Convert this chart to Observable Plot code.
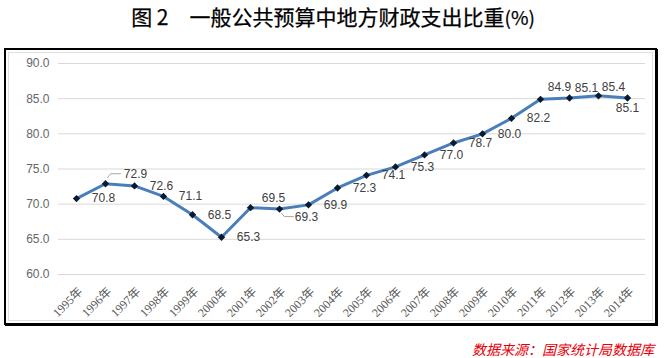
<!DOCTYPE html>
<html><head><meta charset="utf-8">
<script src="https://cdn.jsdelivr.net/npm/d3@7"></script>
<script src="https://cdn.jsdelivr.net/npm/@observablehq/plot@0.6"></script>
<style>
body{margin:0;width:666px;height:358px;position:relative;background:#fff;overflow:hidden;font-family:"Noto Sans CJK SC",sans-serif}
#title{position:absolute;top:3px;left:0;width:666px;text-align:center;font-size:21px;font-weight:normal;-webkit-text-stroke:0.25px #000;line-height:26px;white-space:pre;color:#000}
#title small{font-size:19px}
#frame{position:absolute;left:4px;top:48px;width:649px;height:273px;border:2px solid #000;box-shadow:1px 1px 0 #000}
#inner{position:absolute;left:8px;top:52px;width:643px;height:267px;border:1px solid #e0e0e0}
#chart{position:absolute;left:0;top:45px}
#source{position:absolute;right:12px;top:339px;color:#e8000b;font-size:14px;font-style:italic;line-height:20px}
</style></head>
<body>
<div id="title">图 2　一般公共预算中地方财政支出比重<small>(%)</small></div>
<div id="frame"></div>
<div id="inner"></div>
<div id="chart"></div>
<div id="source">数据来源：国家统计局数据库</div>
<script>
const years = ["1995年","1996年","1997年","1998年","1999年","2000年","2001年","2002年","2003年","2004年","2005年","2006年","2007年","2008年","2009年","2010年","2011年","2012年","2013年","2014年"];
const shares = [70.8,72.9,72.6,71.1,68.5,65.3,69.5,69.3,69.9,72.3,74.1,75.3,77.0,78.7,80.0,82.2,84.9,85.1,85.4,85.1];
const yTicks = [60,65,70,75,80,85,90];

const data = years.map((year, i) => ({year, value: shares[i]}));

// label placement (styling only)
const nudge = {
  "1996年": [30, -10], "2001年": [23, -10], "2002年": [27, 8],
  "2011年": [19, -12], "2012年": [17, -10], "2013年": [15, -9], "2014年": [0, 10]
};
const labelMarks = data.map(d => {
  const [dx, dy] = nudge[d.year] || [27, 0];
  return Plot.text([d], {x: "year", y: "value", text: d => d.value.toFixed(1), dx, dy,
    fill: "#404040", fontSize: 12, fontFamily: "Liberation Sans, Arial, sans-serif"});
});
const leader = (pts) => ({draw(ctx) { ctx.moveTo(pts[0][0], pts[0][1]); for (const p of pts.slice(1)) ctx.lineTo(p[0], p[1]); }});

const chart = Plot.plot({
  width: 666, height: 280,
  marginLeft: 58, marginRight: 21, marginTop: 18, marginBottom: 51,
  x: {type: "point", domain: years, padding: 0.5, axis: null},
  y: {domain: [60, 90], label: null},
  style: {background: "transparent"},
  marks: [
    Plot.ruleY(yTicks, {stroke: "#d9d9d9", strokeWidth: 1}),
    Plot.axisY({ticks: yTicks, tickSize: 0, tickPadding: 9, tickFormat: d => d.toFixed(1), label: null,
      fill: "#666666", fontSize: 12, fontFamily: "Liberation Sans, Arial, sans-serif"}),
    Plot.text(years, {x: d => d, y: () => 60, text: d => d, rotate: -45, textAnchor: "end",
      dx: 4, dy: 15, fill: "#595959", fontSize: 12, fontFamily: "Liberation Serif, Noto Sans CJK SC, serif"}),
    Plot.line(data, {x: "year", y: "value", stroke: "#4a7ebb", strokeWidth: 3}),
    Plot.dot(data, {x: "year", y: "value", symbol: "diamond2", r: 3.3, fill: "#0a1a2e", stroke: "none"}),
    Plot.vector(data.filter(d => d.year === "1996年"), {x: "year", y: "value", anchor: "start", length: 10,
      shape: leader([[2, -6], [5, -10], [15, -10]]), stroke: "#a6a6a6", strokeWidth: 1}),
    Plot.vector(data.filter(d => d.year === "2002年"), {x: "year", y: "value", anchor: "start", length: 10,
      shape: leader([[2, 4], [5, 7.5], [14, 7.5]]), stroke: "#a6a6a6", strokeWidth: 1}),
    ...labelMarks
  ]
});
document.getElementById("chart").append(chart);
</script>
</body></html>
